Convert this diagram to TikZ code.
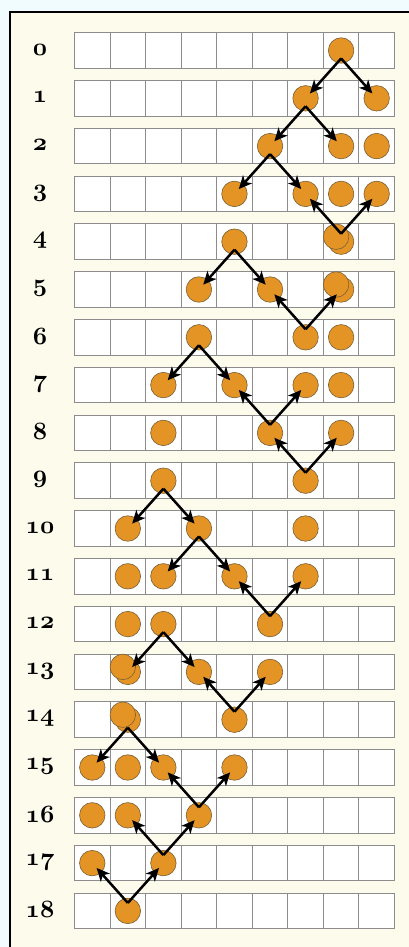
\documentclass[tikz,border=0pt]{standalone}
\usetikzlibrary{arrows.meta,calc}
\definecolor{outerbg}{RGB}{240,252,255}
\definecolor{panel}{RGB}{253,251,236}
\definecolor{cellline}{RGB}{140,140,140}
\definecolor{ballfill}{RGB}{228,148,36}
\definecolor{ballline}{RGB}{120,95,55}
\newcommand\osnum[1]{{\fontsize{25}{27}\usefont{OML}{cmm}{b}{it}#1}}
\begin{document}
\begin{tikzpicture}[x=1pt,y=-1pt,
  cellbox/.style={draw=cellline,fill=white,line width=0.9pt},
  ball/.style={circle,draw=ballline,fill=ballfill,line width=0.6pt,minimum size=25.5pt,inner sep=0pt},
  arr/.style={-{Stealth[length=13pt,width=12pt,inset=3.5pt]},line width=2.5pt,shorten >=6.5pt},
  lbl/.style={inner sep=0pt}]
\useasboundingbox (0,0) rectangle (409,947);
\clip (0,0) rectangle (409,947);
\fill[outerbg] (0,0) rectangle (409,947);
\fill[panel] (10.3,12) rectangle (430,960);
\draw[line width=2pt] (10.3,960) -- (10.3,12) -- (430,12);
% rows
\foreach \r in {0,...,18} {
  \node[lbl] (l\r) at (40,{49.5+47.8*\r}) {\osnum{\r}};
  \foreach \c in {0,...,8}
    \draw[cellbox] ({74.5+35.55*\c},{32.7+47.8*\r}) rectangle ++(35.55,35.6);
}
% balls (back layer at cell centres)
\foreach \r/\c in {0/7, 1/6, 1/8, 2/5, 2/7, 2/8, 3/4, 3/6, 3/7, 3/8,
  4/4, 4/7, 5/3, 5/5, 5/7, 6/3, 6/6, 6/7, 7/2, 7/4, 7/6, 7/7,
  8/2, 8/5, 8/7, 9/2, 9/6, 10/1, 10/3, 10/6, 11/1, 11/2, 11/4, 11/6,
  12/1, 12/2, 12/5, 13/1, 13/3, 13/5, 14/1, 14/4,
  15/0, 15/1, 15/2, 15/4, 16/0, 16/1, 16/3, 17/0, 17/2, 18/1}
  \node[ball] (b\r-\c) at ({92.275+35.55*\c},{50.5+47.8*\r}) {};
% doubled balls (front copy, shifted up-left)
\foreach \r/\c in {4/7, 5/7, 13/1, 14/1}
  \node[ball] (f\r-\c) at ($(b\r-\c)+(-5,-5)$) {};
% splitting arrows
\foreach \s/\t in {0-7/1-6, 0-7/1-8, 1-6/2-5, 1-6/2-7, 2-5/3-4, 2-5/3-6,
  4-4/5-3, 4-4/5-5, 6-3/7-2, 6-3/7-4, 9-2/10-1, 9-2/10-3, 10-3/11-2, 10-3/11-4,
  12-2/13-1, 12-2/13-3, 14-1/15-0, 14-1/15-2}
  \draw[arr] ($(b\s)+(0,8)$) -- (b\t.center);
% merging arrows
\foreach \m/\u in {4-7/3-6, 4-7/3-8, 6-6/5-5, 6-6/5-7, 8-5/7-4, 8-5/7-6,
  9-6/8-5, 9-6/8-7, 12-5/11-4, 12-5/11-6, 14-4/13-3, 14-4/13-5,
  16-3/15-2, 16-3/15-4, 17-2/16-1, 17-2/16-3, 18-1/17-0, 18-1/17-2}
  \draw[arr] ($(b\m)+(0,-8)$) -- (b\u.center);
\end{tikzpicture}
\end{document}
